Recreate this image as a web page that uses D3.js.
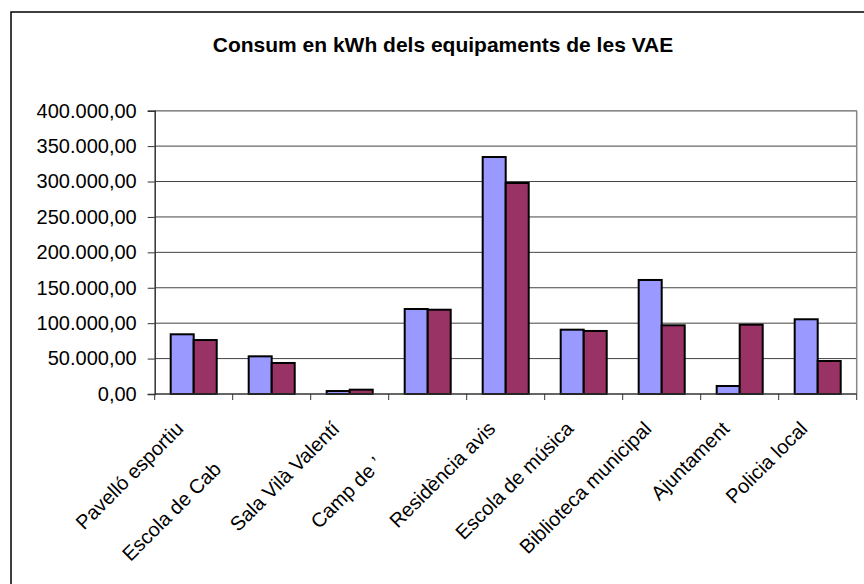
<!DOCTYPE html>
<html>
<head>
<meta charset="utf-8">
<script src="https://cdn.jsdelivr.net/npm/d3@7"></script>
<style>
  body { margin: 0; background: #fff; }
  text { font-family: "Liberation Sans", Arial, sans-serif; }
</style>
</head>
<body>
<svg id="chart"></svg>
<script>
// values
var categories = ["Pavelló esportiu", "Escola de Cab", "Sala Vilà Valentí", "Camp de ’",
                  "Residència avis", "Escola de música", "Biblioteca municipal", "Ajuntament", "Policia local"];
var serie1 = [84300, 53200, 4200, 120000, 334600, 90800, 161000, 11300, 105500];
var serie2 = [76200, 43800, 6100, 119000, 297900, 89000, 97000, 97900, 46600];
var yTicks = [0, 50000, 100000, 150000, 200000, 250000, 300000, 350000, 400000];
var title = "Consum en kWh dels equipaments de les VAE";

var screen = {width: 864, height: 584};
var plot = {left: 154.7, right: 856.7, top: 110.7, bottom: 394};
var colors = ["#9999FF", "#993366"];
// some labels in the original sit further down their own line
var labelShift = {1: 57, 3: 50};

var fmt = d3.formatLocale({decimal: ",", thousands: ".", grouping: [3], currency: ["", ""]}).format(",.2f");

var svg = d3.select("#chart")
    .attr("width", screen.width)
    .attr("height", screen.height);

// outer chart frame (runs off the right and bottom edge)
svg.append("rect")
    .attr("x", 11).attr("y", 12)
    .attr("width", 900).attr("height", 700)
    .attr("fill", "#fff")
    .attr("stroke", "#000")
    .attr("stroke-width", 1.5);

svg.append("text")
    .attr("x", 443).attr("y", 52)
    .attr("text-anchor", "middle")
    .attr("font-size", 21)
    .attr("font-weight", "bold")
    .text(title);

var xScale = d3.scaleBand()
    .domain(categories)
    .range([plot.left, plot.right])
    .paddingInner(0.41)
    .paddingOuter(0.205);

var x1 = d3.scaleBand()
    .domain([0, 1])
    .range([0, xScale.bandwidth()]);

var yScale = d3.scaleLinear()
    .domain([0, 400000])
    .range([plot.bottom, plot.top]);

// gridlines
svg.append("g")
    .selectAll("line")
    .data(yTicks.slice(1))
    .enter()
    .append("line")
    .attr("x1", plot.left).attr("x2", plot.right)
    .attr("y1", function(d) { return yScale(d); })
    .attr("y2", function(d) { return yScale(d); })
    .attr("stroke", "#444")
    .attr("stroke-width", 1);

// plot area border, top and right
svg.append("line")
    .attr("x1", plot.right).attr("x2", plot.right)
    .attr("y1", plot.top).attr("y2", plot.bottom)
    .attr("stroke", "#888").attr("stroke-width", 1.5);
svg.append("line")
    .attr("x1", plot.left).attr("x2", plot.right)
    .attr("y1", plot.top).attr("y2", plot.top)
    .attr("stroke", "#888").attr("stroke-width", 1.5);

// bars
var rows = categories.map(function(c, i) { return {cat: c, vals: [serie1[i], serie2[i]]}; });
var groups = svg.append("g")
    .selectAll("g")
    .data(rows)
    .enter()
    .append("g")
    .attr("transform", function(d) { return "translate(" + xScale(d.cat) + ",0)"; });

groups.selectAll("rect")
    .data(function(d) { return d.vals; })
    .enter()
    .append("rect")
    .attr("x", function(d, i) { return x1(i); })
    .attr("y", function(d) { return yScale(d); })
    .attr("width", x1.bandwidth())
    .attr("height", function(d) { return plot.bottom - yScale(d); })
    .attr("fill", function(d, i) { return colors[i]; })
    .attr("stroke", "#000")
    .attr("stroke-width", 2);

// y axis
var yAxis = d3.axisLeft(yScale)
    .tickValues(yTicks)
    .tickSize(7)
    .tickPadding(11)
    .tickFormat(fmt);

var ya = svg.append("g")
    .attr("transform", "translate(" + plot.left + ",0)")
    .call(yAxis);
ya.select(".domain").attr("stroke", "#333").attr("stroke-width", 1.5);
ya.selectAll(".tick line").attr("stroke", "#333");
ya.selectAll("text")
    .attr("font-family", "'Liberation Sans', Arial, sans-serif")
    .attr("font-size", 20)
    .attr("fill", "#000");

// x axis line and boundary ticks
var step = xScale.step();
svg.append("line")
    .attr("x1", plot.left).attr("x2", plot.right)
    .attr("y1", plot.bottom).attr("y2", plot.bottom)
    .attr("stroke", "#333").attr("stroke-width", 1.5);
svg.append("g")
    .selectAll("line")
    .data(d3.range(categories.length + 1))
    .enter()
    .append("line")
    .attr("x1", function(k) { return plot.left + k * step; })
    .attr("x2", function(k) { return plot.left + k * step; })
    .attr("y1", plot.bottom).attr("y2", plot.bottom + 6)
    .attr("stroke", "#333");

// rotated category labels
svg.append("g")
    .selectAll("text")
    .data(categories)
    .enter()
    .append("text")
    .attr("transform", function(d, i) {
        var s = (labelShift[i] || 0) * Math.SQRT1_2;
        var cx = xScale(d) + xScale.bandwidth() / 2;
        return "translate(" + (cx - 9 - s) + "," + (plot.bottom + 36 + s) + ") rotate(-45)";
    })
    .attr("text-anchor", "end")
    .attr("font-size", 20)
    .attr("fill", "#000")
    .text(function(d) { return d; });
</script>
</body>
</html>
